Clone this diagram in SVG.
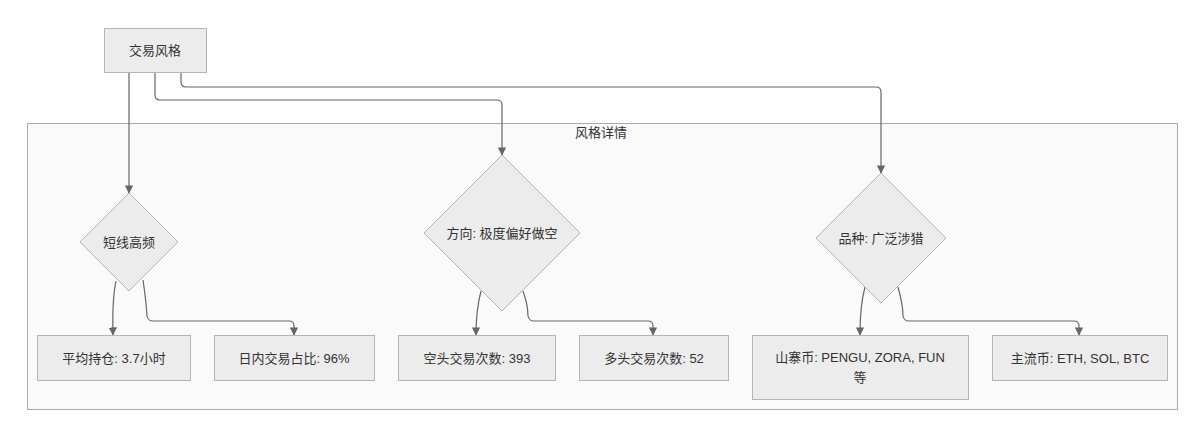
<svg xmlns="http://www.w3.org/2000/svg" width="1200" height="433" viewBox="0 0 1200 433">
<style>
text{font-family:"Liberation Sans","Noto Sans CJK SC",sans-serif;font-size:13px;fill:#333;text-anchor:middle;dominant-baseline:central}
.n{fill:#ececec;stroke:#b5b5b5;stroke-width:1}
.e{fill:none;stroke:#666;stroke-width:1.2;marker-end:url(#a)}
</style>
<defs><marker id="a" viewBox="0 0 10 10" refX="9" refY="5" markerWidth="7" markerHeight="7" orient="auto"><path d="M0,0L10,5L0,10z" fill="#666"/></marker></defs>
<rect width="1200" height="433" fill="#fff"/>
<g id="cluster"><rect x="27.5" y="123.5" width="1150" height="286" fill="#fafafa" stroke="#aaa"/><text x="601" y="132">风格详情</text></g>
<g id="edges">
<path class="e" d="M129,73V193"/>
<path class="e" d="M155,73V95Q155,100 160,100H497Q502,100 502,105V155"/>
<path class="e" d="M181,73V82Q181,87 186,87H876Q881,87 881,92V173"/>
<path class="e" d="M116,281Q112,300 113,335"/>
<path class="e" d="M143,280Q146,300 147,316Q148,321 153,321H289Q294,321 294,326V335"/>
<path class="e" d="M481,291Q476,310 476,335"/>
<path class="e" d="M523,291Q528,305 528,316Q529,321 534,321H648Q653,321 653,326V335"/>
<path class="e" d="M865,287Q860,305 860,335"/>
<path class="e" d="M898,287Q903,305 903,316Q904,321 909,321H1074Q1079,321 1079,326V335"/>
</g>
<g id="n0"><rect class="n" x="104.5" y="28.5" width="102" height="44"/><text x="155" y="50">交易风格</text></g>
<g id="d1"><path class="n" d="M129,193L178,242L129,291L80,242Z"/><text x="129" y="242">短线高频</text></g>
<g id="d2"><path class="n" d="M502,155L580,233L502,311L424,233Z"/><text x="502" y="233">方向: 极度偏好做空</text></g>
<g id="d3"><path class="n" d="M881,173L946,238L881,303L816,238Z"/><text x="881" y="238">品种: 广泛涉猎</text></g>
<g id="b1"><rect class="n" x="37.5" y="335.5" width="153" height="45"/><text x="114" y="358">平均持仓: 3.7小时</text></g>
<g id="b2"><rect class="n" x="214.5" y="335.5" width="160" height="45"/><text x="294" y="358">日内交易占比: 96%</text></g>
<g id="b3"><rect class="n" x="398.5" y="335.5" width="157" height="45"/><text x="477" y="358">空头交易次数: 393</text></g>
<g id="b4"><rect class="n" x="579.5" y="335.5" width="149" height="45"/><text x="654" y="358">多头交易次数: 52</text></g>
<g id="b5"><rect class="n" x="752.5" y="335.5" width="216" height="64"/><text x="860" y="357">山寨币: PENGU, ZORA, FUN</text><text x="860" y="377">等</text></g>
<g id="b6"><rect class="n" x="992.5" y="335.5" width="175" height="45"/><text x="1080" y="358">主流币: ETH, SOL, BTC</text></g>
</svg>
